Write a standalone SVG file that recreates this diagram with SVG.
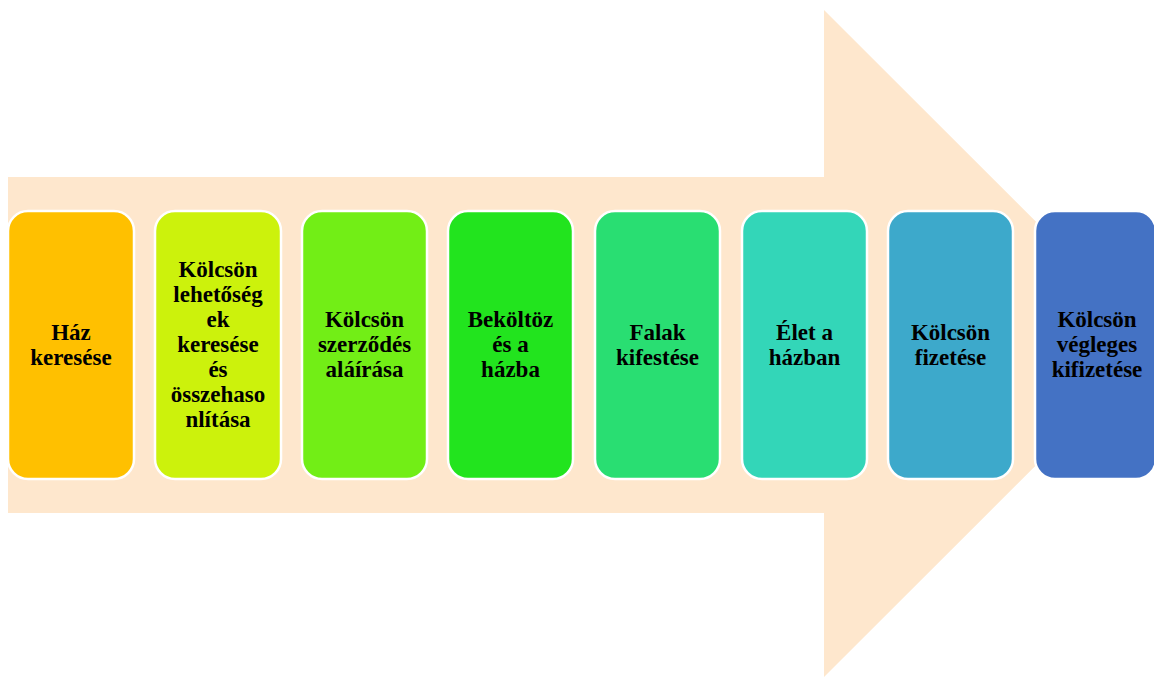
<svg xmlns="http://www.w3.org/2000/svg" width="1154" height="677" viewBox="0 0 1154 677">
<style>
.box{stroke:#ffffff;stroke-width:2.5}
.lbl{font-family:"Liberation Serif","Times New Roman",serif;font-weight:bold;font-size:23px;fill:#000000;text-anchor:middle}
</style>
<rect width="1154" height="677" fill="#ffffff"/>
<g id="arrow">
<polygon points="8,177 824,177 824,10 1158,343.5 824,677 824,513 8,513" fill="#FEE7CD"/>
</g>
<g id="connectors"></g>
<g id="n1"><rect class="box" x="8" y="211" width="126" height="268" rx="20" fill="#FFC000"/>
<text class="lbl" x="71"><tspan x="71" y="340">Ház</tspan><tspan x="71" y="365">keresése</tspan></text></g>
<g id="n2"><rect class="box" x="155" y="211" width="126" height="268" rx="20" fill="#CCF20C"/>
<text class="lbl"><tspan x="218" y="277">Kölcsön</tspan><tspan x="218" y="302">lehetőség</tspan><tspan x="218" y="327">ek</tspan><tspan x="218" y="352">keresése</tspan><tspan x="218" y="377">és</tspan><tspan x="218" y="402">összehaso</tspan><tspan x="218" y="427">nlítása</tspan></text></g>
<g id="n3"><rect class="box" x="302" y="211" width="125" height="268" rx="20" fill="#72EE16"/>
<text class="lbl"><tspan x="364.5" y="327">Kölcsön</tspan><tspan x="364.5" y="352">szerződés</tspan><tspan x="364.5" y="377">aláírása</tspan></text></g>
<g id="n4"><rect class="box" x="448" y="211" width="125" height="268" rx="20" fill="#22E41E"/>
<text class="lbl"><tspan x="510.5" y="327">Beköltöz</tspan><tspan x="510.5" y="352">és a</tspan><tspan x="510.5" y="377">házba</tspan></text></g>
<g id="n5"><rect class="box" x="595" y="211" width="125" height="268" rx="20" fill="#29DE72"/>
<text class="lbl"><tspan x="657.5" y="340">Falak</tspan><tspan x="657.5" y="365">kifestése</tspan></text></g>
<g id="n6"><rect class="box" x="742" y="211" width="125" height="268" rx="20" fill="#33D6B8"/>
<text class="lbl"><tspan x="804.5" y="340">Élet a</tspan><tspan x="804.5" y="365">házban</tspan></text></g>
<g id="n7"><rect class="box" x="888" y="211" width="125" height="268" rx="20" fill="#3DA9CB"/>
<text class="lbl"><tspan x="950.5" y="340">Kölcsön</tspan><tspan x="950.5" y="365">fizetése</tspan></text></g>
<g id="n8"><rect class="box" x="1035" y="211" width="121" height="268" rx="20" fill="#4472C4"/>
<text class="lbl"><tspan x="1097" y="327">Kölcsön</tspan><tspan x="1097" y="352">végleges</tspan><tspan x="1097" y="377">kifizetése</tspan></text></g>
</svg>
